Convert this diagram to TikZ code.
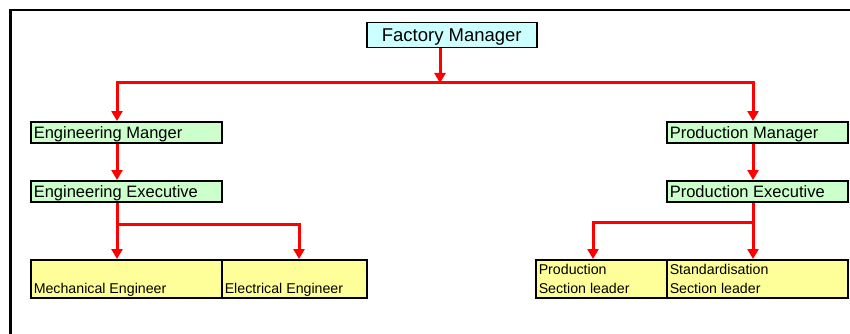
\documentclass[tikz,border=0pt]{standalone}
\usepackage{fontspec}
\setmainfont{Liberation Sans}
\usetikzlibrary{arrows.meta}
\definecolor{headfill}{HTML}{CCFFFF}
\definecolor{mgrfill}{HTML}{CCFFCC}
\definecolor{stafffill}{HTML}{FFFF99}
\definecolor{linkred}{HTML}{FF0000}

\begin{document}
\begin{tikzpicture}[x=1pt,y=1pt,
  box/.style={draw=black, line width=1.5pt, rectangle, inner xsep=3pt, inner ysep=0pt, anchor=north west},
  headbox/.style={box, fill=headfill, inner xsep=0pt, font=\fontsize{18.5}{20}\selectfont, text height=19pt, text depth=6pt},
  mgrbox/.style={box, fill=mgrfill, font=\fontsize{16.5}{18}\selectfont, text height=17pt, text depth=4pt},
  staffbox/.style={box, fill=stafffill, font=\fontsize{14.2}{19}\selectfont, text height=34pt, text depth=4pt},
  link/.style={draw=linkred, line width=3pt, line join=miter},
  linkarrow/.style={link, -{Triangle[width=11pt,length=10pt]}},
]
\useasboundingbox (0,0) rectangle (850,-334);

% page frame (top and left rules)
\draw[line width=2.3pt, line join=miter] (10.5,-334) -- (10.5,-10) -- (850,-10);

% head of the organisation
\node[headbox] (fm) at (366,-22) {\makebox[170pt]{Factory Manager}};

% managers and executives
\node[mgrbox] (em) at (30,-121)  {\makebox[185pt][l]{Engineering Manger}};
\node[mgrbox] (ee) at (30,-180)  {\makebox[185pt][l]{Engineering Executive}};
\node[mgrbox] (pm) at (666,-121) {\makebox[175pt][l]{Production Manager}};
\node[mgrbox] (pe) at (666,-180) {\makebox[175pt][l]{Production Executive}};

% staff row
\node[staffbox] (mech) at (30,-259)  {\makebox[185pt][l]{Mechanical Engineer}};
\node[staffbox] (elec) at (221,-259) {\makebox[139pt][l]{Electrical Engineer}};
\node[staffbox] (prod) at (535,-259) {\makebox[125pt][l]{\begin{tabular}[b]{@{}l@{}}Production\\Section leader\end{tabular}}};
\node[staffbox] (std)  at (666,-259) {\makebox[175pt][l]{\begin{tabular}[b]{@{}l@{}}Standardisation\\Section leader\end{tabular}}};

% routing columns and rows of the connectors
\coordinate (colL) at (117,0);
\coordinate (colM) at (440,0);
\coordinate (colR) at (753,0);
\coordinate (bus) at (0,-83);
\coordinate (engBr) at (299,-224);
\coordinate (prodBr) at (593,-222);

% connectors
\draw[linkarrow] (colM |- fm.south) -- (colM |- bus);
\draw[linkarrow] (colR |- bus) -- (colL |- bus) -- (colL |- em.north);
\draw[linkarrow] (colL |- bus) -- (colR |- bus) -- (colR |- pm.north);
\draw[linkarrow] (colL |- em.south) -- (colL |- ee.north);
\draw[linkarrow] (colR |- pm.south) -- (colR |- pe.north);
\draw[linkarrow] (colL |- ee.south) -- (colL |- mech.north);
\draw[linkarrow] (colL |- engBr) -- (engBr) -- (engBr |- elec.north);
\draw[linkarrow] (colR |- pe.south) -- (colR |- std.north);
\draw[linkarrow] (colR |- prodBr) -- (prodBr) -- (prodBr |- prod.north);
\end{tikzpicture}
\end{document}
